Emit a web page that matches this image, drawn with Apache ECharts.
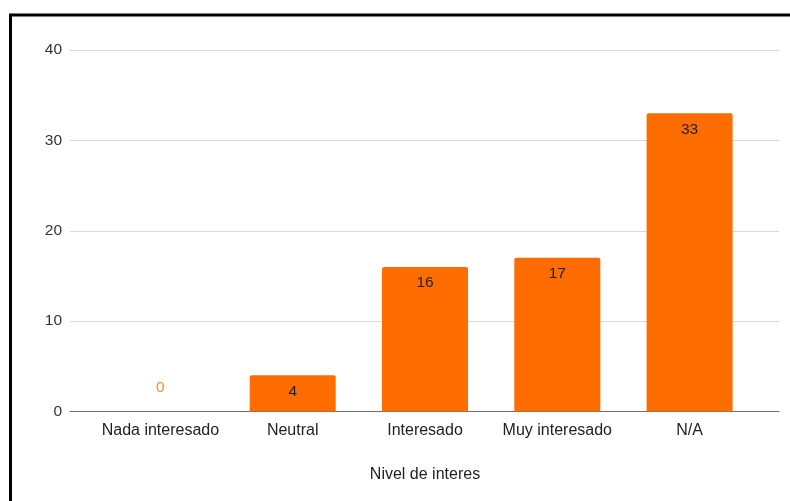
<!DOCTYPE html>
<html>
<head>
<meta charset="utf-8">
<script src="https://cdn.jsdelivr.net/npm/echarts@6/dist/echarts.min.js"></script>
<style>html,body{margin:0;padding:0;background:#fff;}#c{width:790px;height:501px;}</style>
</head>
<body>
<div id="c"></div>
<script>
const categories = ['Nada interesado', 'Neutral', 'Interesado', 'Muy interesado', 'N/A'];
const values = [0, 4, 16, 17, 33];
const yTicks = [0, 10, 20, 30, 40];
const xTitle = 'Nivel de interes';

const FONT = 'Liberation Sans, Arial, sans-serif';
const chart = echarts.init(document.getElementById('c'));
chart.setOption({
  backgroundColor: '#ffffff',
  animation: false,
  grid: [
    { left: 70, right: 11, top: 50, bottom: 89.5 },
    { left: 94.25, right: 34.25, top: 50, bottom: 89.5 }
  ],
  xAxis: [
    { gridIndex: 0, type: 'value', min: 0, max: 1, show: true,
      axisLine: { show: true, onZero: false, lineStyle: { color: '#6f6f6f', width: 1.2 } },
      axisTick: { show: false }, axisLabel: { show: false }, splitLine: { show: false } },
    { gridIndex: 1, type: 'category', data: categories,
      axisLine: { show: false }, axisTick: { show: false },
      axisLabel: { color: '#222', fontSize: 16, fontFamily: FONT, margin: 11, interval: 0 },
      name: xTitle, nameLocation: 'middle', nameGap: 55,
      nameTextStyle: { color: '#222', fontSize: 16, fontFamily: FONT } }
  ],
  yAxis: [
    { gridIndex: 0, type: 'value', min: yTicks[0], max: yTicks[yTicks.length - 1], interval: 10,
      axisLine: { show: false }, axisTick: { show: false },
      axisLabel: { color: '#333', fontSize: 15.5, fontFamily: FONT, margin: 8 },
      splitLine: { lineStyle: { color: '#d9d9d9', width: 1.2 } } },
    { gridIndex: 1, type: 'value', min: yTicks[0], max: yTicks[yTicks.length - 1], interval: 10,
      show: false }
  ],
  series: [{
    type: 'bar',
    xAxisIndex: 1, yAxisIndex: 1,
    barWidth: 86,
    z: 3,
    itemStyle: { color: '#ff6d01', borderRadius: [2, 2, 0, 0] },
    data: values.map(v => v === 0
      ? { value: v, label: { position: 'top', distance: 16, color: '#ff8a33' } }
      : v),
    label: {
      show: true, position: 'insideTop', distance: 8,
      color: '#1f1f1f', fontSize: 15.5, fontFamily: FONT
    }
  }],
  graphic: [{
    type: 'polyline',
    shape: { points: [[10.5, 501], [10.5, 15], [790, 15]] },
    style: { stroke: '#000', lineWidth: 3, fill: null },
    z: 100
  }]
});
</script>
</body>
</html>
